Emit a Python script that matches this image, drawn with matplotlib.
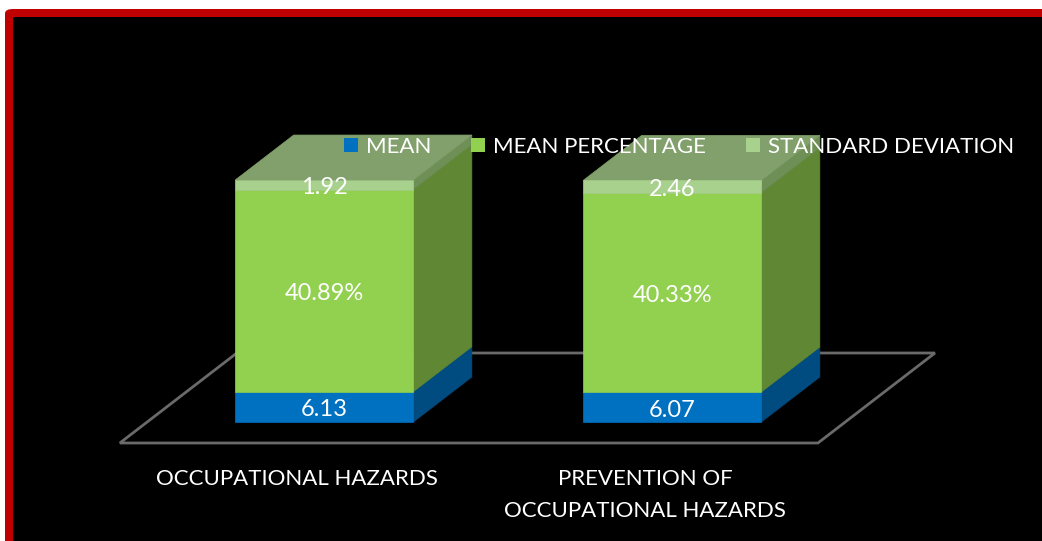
import matplotlib
matplotlib.use('Agg')
from matplotlib import pyplot as plot
from matplotlib.patches import Polygon, FancyBboxPatch, Rectangle, Patch
import numpy as np

plot.rcParams['font.family'] = ['Lato', 'DejaVu Sans']

# data
categories = ['OCCUPATIONAL HAZARDS', 'PREVENTION OF\nOCCUPATIONAL HAZARDS']
seriesNames = ['MEAN', 'MEAN PERCENTAGE', 'STANDARD DEVIATION']
meanVals = [6.13, 6.07]
meanPctVals = [40.89, 40.33]
sdVals = [1.92, 2.46]
valueLabels = [['6.13', '6.07'], ['40.89%', '40.33%'], ['1.92', '2.46']]

frontColors = ['#0070C0', '#92D050', '#A9D18E']
sideColors = ['#004B80', '#608834', '#6E8F55']
topColor = '#82A06C'

W, H = 1042, 541
fig = plot.figure(figsize=(W / 100, H / 100), dpi=100)
fig.patch.set_facecolor('white')

# red frame with black inside (cut off at right/bottom)
fig.add_artist(FancyBboxPatch((5 / W, -0.1), 1.2, 1 - 9 / H + 0.1,
                              boxstyle='round,pad=0,rounding_size=0.008',
                              transform=fig.transFigure, facecolor='#C00000',
                              edgecolor='none', zorder=0))
fig.add_artist(Rectangle((13 / W, -0.1), 1.2, 1 - 17 / H + 0.1,
                         transform=fig.transFigure, facecolor='black',
                         edgecolor='none', zorder=0.5))

# scale: value units -> pixels, category spacing -> pixels
pxPerVal = 242 / 48.94
pxPerCat = 348.0
baseY = 443.0
cat0X = 297.0

ax = fig.add_axes([0, 0, 1, 1])
ax.set_zorder(1)
ax.patch.set_alpha(0)
ax.axis('off')
ax.set_xlim(-cat0X / pxPerCat, (W - cat0X) / pxPerCat)
ax.set_ylim((baseY - H) / pxPerVal, baseY / pxPerVal)

# oblique depth direction (per unit of depth) in data units
DX = 117 / pxPerCat
DY = 90 / pxPerVal


def proj(c, v, z):
    return (c + z * DX, v + z * DY)


# floor
floorL, floorR = -0.509, 1.497
floor = [proj(floorL, 0, 0), proj(floorR, 0, 0), proj(floorR, 0, 1), proj(floorL, 0, 1)]
ax.add_patch(Polygon(floor, closed=True, facecolor='black', edgecolor='#6a6a6a', lw=2, zorder=1))

# bars
z0, z1 = 0.233, 0.733
hw = 0.256
labelShift = 3 / pxPerVal  # labels sit a little low in the original
series = [meanVals, meanPctVals, sdVals]
for i in range(len(categories)):
    bottom = 0.0
    for k, vals in enumerate(series):
        top = bottom + vals[i]
        front = [proj(i - hw, bottom, z0), proj(i + hw, bottom, z0),
                 proj(i + hw, top, z0), proj(i - hw, top, z0)]
        side = [proj(i + hw, bottom, z0), proj(i + hw, bottom, z1),
                proj(i + hw, top, z1), proj(i + hw, top, z0)]
        ax.add_patch(Polygon(side, closed=True, facecolor=sideColors[k],
                             edgecolor=sideColors[k], lw=0.5, zorder=2))
        ax.add_patch(Polygon(front, closed=True, facecolor=frontColors[k],
                             edgecolor=frontColors[k], lw=0.5, zorder=3))
        lx, ly = proj(i, (bottom + top) / 2 - labelShift, z0)
        ax.text(lx, ly, valueLabels[k][i], color='white', fontsize=17,
                ha='center', va='center', zorder=6)
        bottom = top
    topFace = [proj(i - hw, bottom, z0), proj(i + hw, bottom, z0),
               proj(i + hw, bottom, z1), proj(i - hw, bottom, z1)]
    ax.add_patch(Polygon(topFace, closed=True, facecolor=topColor,
                         edgecolor=topColor, lw=0.5, zorder=2))

# category labels
for i, name in enumerate(categories):
    ax.text(i, (baseY - 469) / pxPerVal, name, color='white', fontsize=16,
            ha='center', va='top', linespacing=1.75, zorder=6)

# legend
handles = [Patch(facecolor=c, edgecolor='none') for c in frontColors]
leg = ax.legend(handles, seriesNames, ncol=3, frameon=False, fontsize=16,
                loc='center left', bbox_to_anchor=(344 / W, 1 - 147 / H),
                handlelength=0.63, handleheight=0.63, handletextpad=0.36,
                columnspacing=1.8, borderpad=0, borderaxespad=0)
for t in leg.get_texts():
    t.set_color('white')
leg.set_zorder(7)

fig.savefig('out.png', dpi=100, facecolor=fig.get_facecolor())
